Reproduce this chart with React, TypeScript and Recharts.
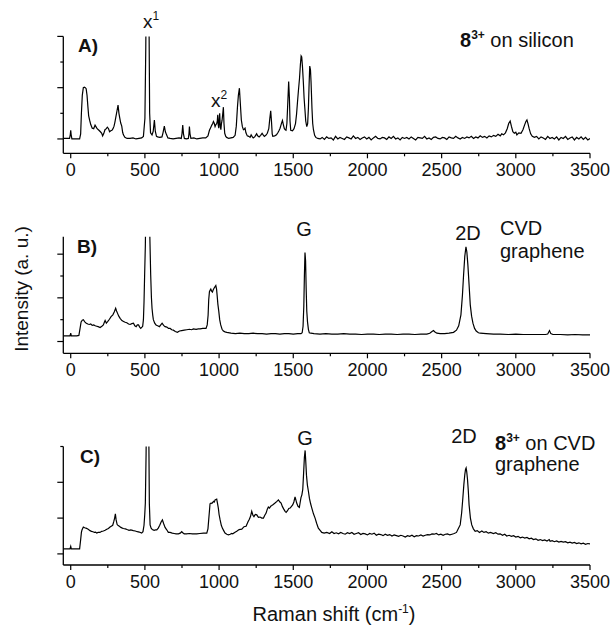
import { LineChart, Line, XAxis, YAxis } from 'recharts'

const FONT = '"Liberation Sans", Arial, sans-serif'

// Raman shift ticks (cm-1), majors every 500, minors in between
const shiftTicks = [0, 250, 500, 750, 1000, 1250, 1500, 1750, 2000, 2250, 2500, 2750, 3000, 3250, 3500]

// y ticks per panel (arbitrary units), majors listed separately
const ticksA = [0, 0.5, 1, 1.5, 2]
const majorA = [0, 1, 2]
const ticksB = [0, 0.5, 1, 1.5, 2]
const majorB = [0, 1, 2]
const ticksC = [0, 1, 2, 3]
const majorC = [0, 1, 2]

// A) 8(3+) on silicon  [shift, intensity]
const spectrumA: [number, number][] = [
  [-50, 0.01], [-20, 0.01], [-8, 0.01], [-3, 0.08], [0, 0.17], [3, 0.08], [8, 0], [30, 0], [60, 0],
  [67, 0.1], [72, 0.5], [78, 0.85], [85, 1.0], [92, 1.01], [98, 1.0], [104, 0.98], [110, 0.85], [116, 0.62],
  [121, 0.45], [128, 0.36], [135, 0.28], [145, 0.21], [155, 0.2], [164, 0.27], [170, 0.24], [178, 0.2],
  [190, 0.17], [200, 0.14], [209, 0.11], [215, 0.06], [222, 0.1], [231, 0.18], [240, 0.2], [247, 0.23],
  [255, 0.2], [262, 0.14], [270, 0.16], [278, 0.17], [285, 0.2], [292, 0.25], [298, 0.33], [305, 0.44],
  [312, 0.55], [319, 0.66], [325, 0.5], [331, 0.4], [337, 0.31], [344, 0.25], [350, 0.13], [355, 0.08],
  [365, 0.03], [380, 0.01], [400, 0.01], [420, 0.02], [440, 0], [460, 0.01], [478, 0.02], [490, 0.05],
  [500, 0.4], [506, 1.8], [512, 4], [518, 4], [524, 4], [528, 2.2], [532, 0.5], [538, 0.12], [548, 0.08],
  [556, 0.15], [564, 0.37], [570, 0.15], [578, 0.05], [586, 0.04], [600, 0.03], [615, 0.04], [622, 0.12],
  [631, 0.25], [638, 0.14], [646, 0.08], [655, 0.02], [670, 0.01], [690, 0], [710, 0.01], [730, 0.02],
  [745, 0.01], [750, 0.1], [755, 0.27], [760, 0.1], [766, 0.01], [780, 0], [793, 0.01], [797, 0.1],
  [800, 0.24], [804, 0.1], [810, 0.01], [830, 0.02], [850, 0], [870, 0.01], [890, 0.02], [910, 0.02],
  [925, 0.06], [935, 0.17], [943, 0.22], [951, 0.27], [957, 0.3], [962, 0.34], [968, 0.3], [973, 0.24],
  [979, 0.28], [984, 0.3], [988, 0.35], [991, 0.47], [994, 0.28], [998, 0.21], [1001, 0.38], [1004, 0.5],
  [1008, 0.25], [1012, 0.18], [1016, 0.3], [1020, 0.36], [1025, 0.5], [1029, 0.62], [1033, 0.3],
  [1038, 0.11], [1045, 0.05], [1051, 0.03], [1065, 0.01], [1080, 0.02], [1095, 0.03], [1108, 0.07],
  [1116, 0.25], [1124, 0.63], [1130, 0.85], [1137, 0.99], [1143, 0.7], [1150, 0.37], [1157, 0.24],
  [1164, 0.18], [1170, 0.19], [1175, 0.21], [1181, 0.12], [1190, 0.06], [1200, 0.05], [1209, 0.03],
  [1216, 0.08], [1222, 0.05], [1230, 0.02], [1240, 0.04], [1253, 0.1], [1260, 0.06], [1270, 0.04],
  [1280, 0.07], [1290, 0.11], [1297, 0.08], [1305, 0.05], [1315, 0.07], [1325, 0.11], [1335, 0.2],
  [1342, 0.4], [1348, 0.55], [1353, 0.35], [1358, 0.1], [1362, 0.05], [1375, 0.06], [1387, 0.08],
  [1398, 0.13], [1405, 0.17], [1411, 0.21], [1420, 0.3], [1427, 0.36], [1433, 0.28], [1440, 0.2],
  [1446, 0.18], [1451, 0.17], [1457, 0.3], [1463, 0.7], [1469, 1.12], [1474, 0.8], [1478, 0.35],
  [1483, 0.17], [1495, 0.16], [1505, 0.2], [1515, 0.3], [1522, 0.48], [1528, 0.7], [1535, 0.95],
  [1542, 1.18], [1548, 1.45], [1553, 1.62], [1557, 1.6], [1562, 1.41], [1568, 1.1], [1573, 0.8],
  [1578, 0.6], [1584, 0.35], [1591, 0.24], [1597, 0.3], [1602, 0.6], [1606, 1.0], [1611, 1.42],
  [1616, 1.35], [1620, 1.1], [1626, 0.6], [1631, 0.3], [1636, 0.18], [1644, 0.07], [1652, 0.03],
  [1665, 0.01], [1681, 0], [1695, 0.03], [1710, -0.01], [1725, 0.04], [1740, 0.01], [1755, 0.02],
  [1770, -0.02], [1785, 0.05], [1800, 0], [1815, 0.03], [1830, 0.01], [1845, -0.01], [1860, 0.04],
  [1875, 0.02], [1890, 0], [1905, 0.06], [1920, 0.01], [1935, 0.03], [1950, -0.01], [1965, 0.02],
  [1980, 0.04], [1995, 0], [2010, 0.03], [2025, -0.02], [2040, 0.02], [2055, 0.05], [2070, 0.01],
  [2085, 0], [2100, 0.03], [2115, 0.02], [2130, -0.01], [2145, 0.04], [2160, 0.01], [2175, 0.05],
  [2190, 0], [2205, 0.02], [2220, -0.02], [2235, 0.03], [2250, 0.01], [2265, 0.03], [2280, 0],
  [2295, 0.04], [2310, 0.01], [2325, -0.02], [2340, 0.03], [2355, 0.02], [2370, 0.01], [2385, 0.05],
  [2400, 0], [2415, 0.02], [2430, -0.01], [2445, 0.03], [2460, 0.04], [2475, 0.01], [2490, 0],
  [2505, 0.03], [2520, 0.02], [2535, -0.01], [2550, 0.04], [2565, 0.02], [2580, 0.01], [2595, 0.05],
  [2610, 0.02], [2625, 0], [2640, 0.03], [2655, 0.01], [2670, 0.04], [2685, 0.02], [2700, 0.05],
  [2715, 0.01], [2730, 0.04], [2745, 0.02], [2760, 0.06], [2775, 0.03], [2790, 0.05], [2805, 0.02],
  [2820, 0.06], [2835, 0.04], [2850, 0.07], [2865, 0.05], [2880, 0.09], [2895, 0.06], [2905, 0.1],
  [2917, 0.08], [2930, 0.12], [2942, 0.2], [2952, 0.3], [2962, 0.35], [2970, 0.25], [2980, 0.14],
  [2990, 0.11], [3000, 0.13], [3007, 0.08], [3020, 0.12], [3035, 0.11], [3048, 0.18], [3060, 0.28],
  [3068, 0.34], [3075, 0.37], [3082, 0.3], [3090, 0.2], [3100, 0.1], [3111, 0.05], [3125, 0.03],
  [3140, 0.05], [3155, 0], [3170, 0.04], [3185, 0.02], [3200, -0.01], [3215, 0.05], [3230, 0.01],
  [3245, 0.03], [3260, 0], [3275, 0.04], [3290, -0.02], [3305, 0.03], [3320, 0.01], [3335, 0.05],
  [3350, -0.01], [3365, 0.02], [3380, 0.04], [3395, -0.02], [3410, 0.03], [3425, 0], [3440, 0.04],
  [3455, -0.01], [3470, 0.03], [3485, -0.02], [3500, 0.01],
]

// B) CVD graphene
const spectrumB: [number, number][] = [
  [-50, 0.13], [-20, 0.13], [-5, 0.13], [0, 0.19], [4, 0.13], [20, 0.13], [40, 0.13], [55, 0.14],
  [63, 0.3], [70, 0.45], [78, 0.49], [85, 0.5], [95, 0.45], [105, 0.42], [115, 0.4], [125, 0.39],
  [135, 0.4], [145, 0.37], [155, 0.38], [165, 0.36], [175, 0.35], [185, 0.34], [198, 0.32], [210, 0.35],
  [220, 0.38], [228, 0.45], [232, 0.48], [240, 0.42], [250, 0.46], [261, 0.51], [272, 0.57], [284, 0.61],
  [294, 0.68], [303, 0.76], [309, 0.7], [315, 0.65], [324, 0.58], [333, 0.53], [345, 0.48], [356, 0.46],
  [367, 0.44], [378, 0.43], [390, 0.4], [400, 0.39], [412, 0.41], [423, 0.42], [432, 0.36], [441, 0.34],
  [449, 0.38], [457, 0.38], [465, 0.33], [472, 0.3], [480, 0.33], [485, 0.35], [490, 0.5], [494, 0.9],
  [498, 1.5], [503, 2.2], [508, 3.5], [514, 4.5], [520, 4.5], [526, 4], [532, 2.6], [539, 1.53],
  [544, 1.0], [548, 0.76], [553, 0.6], [557, 0.5], [566, 0.42], [575, 0.38], [586, 0.36], [598, 0.34],
  [607, 0.38], [616, 0.42], [626, 0.37], [636, 0.34], [648, 0.33], [659, 0.3], [670, 0.3], [681, 0.27],
  [692, 0.26], [705, 0.23], [719, 0.21], [733, 0.24], [748, 0.25], [765, 0.26], [782, 0.27], [800, 0.28],
  [815, 0.27], [827, 0.29], [845, 0.28], [860, 0.29], [872, 0.29], [890, 0.3], [905, 0.3], [912, 0.3],
  [920, 0.38], [926, 0.6], [930, 0.95], [935, 1.14], [940, 1.18], [944, 1.2], [950, 1.15], [955, 1.13],
  [960, 1.18], [966, 1.22], [972, 1.25], [978, 1.28], [983, 1.2], [987, 1.05], [992, 0.85], [998, 0.69],
  [1004, 0.5], [1011, 0.38], [1020, 0.28], [1029, 0.24], [1040, 0.22], [1052, 0.21], [1080, 0.19],
  [1110, 0.18], [1140, 0.19], [1170, 0.18], [1200, 0.18], [1230, 0.19], [1260, 0.18], [1290, 0.18],
  [1320, 0.17], [1350, 0.18], [1380, 0.18], [1410, 0.17], [1440, 0.18], [1470, 0.18], [1500, 0.17],
  [1530, 0.18], [1552, 0.18], [1560, 0.2], [1566, 0.35], [1571, 0.8], [1575, 1.5], [1579, 2.04],
  [1583, 1.85], [1587, 1.2], [1591, 0.7], [1596, 0.45], [1602, 0.28], [1608, 0.2], [1618, 0.19],
  [1640, 0.18], [1680, 0.17], [1720, 0.18], [1760, 0.17], [1800, 0.17], [1840, 0.18], [1880, 0.17],
  [1920, 0.17], [1960, 0.16], [2000, 0.17], [2040, 0.17], [2080, 0.16], [2120, 0.17], [2160, 0.17],
  [2200, 0.16], [2240, 0.17], [2280, 0.17], [2320, 0.16], [2360, 0.17], [2400, 0.17], [2420, 0.19],
  [2435, 0.23], [2445, 0.25], [2455, 0.22], [2468, 0.19], [2490, 0.18], [2520, 0.18], [2550, 0.19],
  [2580, 0.21], [2600, 0.26], [2615, 0.36], [2630, 0.61], [2640, 1.05], [2648, 1.53], [2656, 1.95],
  [2664, 2.17], [2670, 2.05], [2677, 1.75], [2685, 1.3], [2693, 0.84], [2702, 0.58], [2711, 0.42],
  [2722, 0.3], [2733, 0.24], [2748, 0.2], [2760, 0.19], [2800, 0.18], [2850, 0.17], [2895, 0.17],
  [2950, 0.16], [3000, 0.17], [3050, 0.16], [3100, 0.16], [3150, 0.16], [3200, 0.16], [3215, 0.17],
  [3227, 0.25], [3236, 0.18], [3250, 0.16], [3300, 0.16], [3350, 0.15], [3400, 0.16], [3450, 0.15],
  [3500, 0.15],
]

// C) 8(3+) on CVD graphene
const spectrumC: [number, number][] = [
  [-50, 0.14], [-20, 0.14], [-5, 0.14], [0, 0.21], [4, 0.14], [30, 0.14], [60, 0.14], [67, 0.4],
  [72, 0.6], [76, 0.67], [85, 0.75], [94, 0.73], [103, 0.72], [112, 0.7], [120, 0.68], [130, 0.65],
  [140, 0.63], [150, 0.62], [160, 0.6], [168, 0.61], [175, 0.58], [185, 0.6], [197, 0.6], [209, 0.63],
  [220, 0.64], [232, 0.66], [243, 0.69], [254, 0.71], [265, 0.75], [276, 0.78], [283, 0.8], [290, 0.9],
  [296, 1.0], [301, 1.12], [306, 0.95], [313, 0.82], [320, 0.79], [328, 0.77], [338, 0.74], [348, 0.72],
  [355, 0.71], [368, 0.7], [380, 0.68], [393, 0.66], [405, 0.67], [422, 0.65], [435, 0.64], [449, 0.62],
  [462, 0.61], [478, 0.58], [487, 0.62], [494, 0.8], [499, 1.1], [503, 1.42], [508, 2.8], [513, 5],
  [520, 5], [526, 3.5], [530, 1.4], [535, 0.81], [542, 0.72], [550, 0.68], [562, 0.66], [572, 0.67],
  [580, 0.67], [590, 0.72], [600, 0.8], [610, 0.9], [618, 0.95], [626, 0.85], [636, 0.74], [646, 0.68],
  [658, 0.6], [670, 0.6], [684, 0.58], [697, 0.57], [710, 0.56], [726, 0.56], [738, 0.58], [748, 0.62],
  [755, 0.59], [765, 0.56], [780, 0.56], [800, 0.57], [820, 0.56], [849, 0.56], [870, 0.57], [895, 0.58],
  [917, 0.58], [925, 0.7], [930, 0.95], [935, 1.2], [939, 1.4], [945, 1.42], [951, 1.41], [957, 1.44],
  [963, 1.47], [968, 1.45], [973, 1.51], [978, 1.52], [984, 1.53], [990, 1.4], [995, 1.28], [1000, 1.1],
  [1007, 0.95], [1015, 0.8], [1022, 0.72], [1031, 0.65], [1040, 0.58], [1052, 0.55], [1063, 0.53],
  [1075, 0.55], [1085, 0.57], [1092, 0.56], [1105, 0.6], [1119, 0.63], [1135, 0.68], [1153, 0.69],
  [1168, 0.76], [1182, 0.77], [1195, 0.9], [1204, 0.97], [1212, 1.05], [1220, 1.19], [1228, 1.08],
  [1235, 1.04], [1244, 1.1], [1254, 1.09], [1265, 1.02], [1276, 1.03], [1288, 1.0], [1299, 1.0],
  [1308, 1.08], [1317, 1.14], [1325, 1.25], [1332, 1.31], [1340, 1.28], [1348, 1.33], [1355, 1.35],
  [1365, 1.38], [1377, 1.42], [1388, 1.46], [1400, 1.51], [1410, 1.45], [1418, 1.42], [1427, 1.32],
  [1436, 1.25], [1445, 1.19], [1452, 1.16], [1460, 1.2], [1470, 1.27], [1479, 1.28], [1488, 1.33],
  [1496, 1.37], [1504, 1.45], [1512, 1.59], [1518, 1.5], [1523, 1.42], [1532, 1.33], [1541, 1.3],
  [1547, 1.45], [1552, 1.57], [1558, 1.65], [1564, 1.8], [1569, 2.2], [1575, 2.7], [1580, 2.89],
  [1584, 2.6], [1589, 2.2], [1595, 1.93], [1602, 1.75], [1609, 1.55], [1617, 1.4], [1625, 1.28],
  [1636, 1.12], [1647, 1.0], [1658, 0.85], [1669, 0.72], [1681, 0.66], [1692, 0.6], [1708, 0.58],
  [1726, 0.6], [1745, 0.57], [1760, 0.62], [1775, 0.57], [1790, 0.59], [1805, 0.56], [1820, 0.6],
  [1835, 0.57], [1850, 0.55], [1865, 0.59], [1880, 0.57], [1895, 0.6], [1910, 0.55], [1925, 0.57],
  [1940, 0.59], [1955, 0.54], [1970, 0.57], [1985, 0.56], [2000, 0.53], [2015, 0.57], [2030, 0.55],
  [2045, 0.58], [2060, 0.52], [2075, 0.55], [2090, 0.54], [2105, 0.51], [2120, 0.55], [2135, 0.52],
  [2150, 0.54], [2165, 0.5], [2180, 0.53], [2195, 0.51], [2210, 0.49], [2225, 0.52], [2240, 0.5],
  [2255, 0.47], [2270, 0.51], [2285, 0.49], [2300, 0.52], [2315, 0.48], [2330, 0.51], [2345, 0.5],
  [2360, 0.53], [2375, 0.5], [2390, 0.52], [2405, 0.54], [2420, 0.53], [2435, 0.56], [2450, 0.55],
  [2465, 0.57], [2480, 0.53], [2495, 0.55], [2510, 0.52], [2525, 0.55], [2540, 0.56], [2555, 0.53],
  [2570, 0.55], [2585, 0.57], [2600, 0.6], [2612, 0.7], [2625, 0.81], [2635, 1.15], [2643, 1.56],
  [2650, 1.95], [2656, 2.21], [2661, 2.36], [2665, 2.4], [2669, 2.3], [2674, 2.1], [2680, 1.75],
  [2685, 1.37], [2694, 1.0], [2703, 0.81], [2714, 0.7], [2726, 0.63], [2740, 0.65], [2755, 0.6],
  [2771, 0.64], [2785, 0.6], [2800, 0.62], [2815, 0.58], [2830, 0.6], [2849, 0.57], [2865, 0.59],
  [2880, 0.55], [2895, 0.56], [2910, 0.52], [2925, 0.55], [2939, 0.5], [2955, 0.52], [2970, 0.49],
  [2985, 0.51], [3000, 0.47], [3015, 0.49], [3030, 0.45], [3045, 0.47], [3060, 0.44], [3075, 0.46],
  [3090, 0.42], [3105, 0.44], [3119, 0.4], [3135, 0.42], [3150, 0.38], [3165, 0.4], [3180, 0.37],
  [3195, 0.39], [3210, 0.36], [3225, 0.4], [3231, 0.35], [3245, 0.37], [3260, 0.34], [3275, 0.36],
  [3290, 0.33], [3305, 0.35], [3320, 0.33], [3335, 0.34], [3350, 0.31], [3365, 0.33], [3380, 0.3],
  [3395, 0.32], [3410, 0.29], [3425, 0.31], [3440, 0.28], [3455, 0.3], [3470, 0.27], [3485, 0.29],
  [3500, 0.28],
]

const XTick = ({ x, y, payload, showLabel }: any) => {
  const major = payload.value % 500 === 0
  return (
    <g>
      <line x1={x} x2={x} y1={y} y2={y + (major ? 5 : 3)} stroke="#000" strokeWidth={1.2} />
      {major && showLabel && (
        <text x={x} y={y + 23} textAnchor="middle" fontSize={18} fontFamily={FONT} fill="#111">
          {payload.value}
        </text>
      )}
    </g>
  )
}

const makeYTick = (majors: number[]) => ({ x, y, payload }: any) => {
  const len = majors.includes(payload.value) ? 6 : 3
  return <line x1={x} x2={x - len} y1={y} y2={y} stroke="#000" strokeWidth={1.2} />
}

interface PanelProps {
  data: [number, number][]
  top: number
  height: number
  marginTop: number
  marginBottom: number
  yDomain: [number, number]
  yTicks: number[]
  yMajor: number[]
}

function Panel({ data, top, height, marginTop, marginBottom, yDomain, yTicks, yMajor }: PanelProps) {
  const rows = data.map(([shift, v]) => ({ shift, v }))
  return (
    <div style={{ position: 'absolute', left: 0, top, width: 610, height }}>
      <LineChart width={610} height={height} data={rows}
        margin={{ top: marginTop, right: 20, bottom: marginBottom, left: 3.3 }}>
        <XAxis type="number" dataKey="shift" domain={[-50, 3500]} ticks={shiftTicks} interval={0}
          allowDataOverflow height={30} tickSize={0} tickMargin={0} tickLine={false}
          axisLine={{ stroke: '#000', strokeWidth: 1.3 }}
          tick={(p: any) => <XTick {...p} showLabel />} />
        <YAxis type="number" domain={yDomain} ticks={yTicks} interval={0} allowDataOverflow width={60}
          tickSize={0} tickMargin={0} tickLine={false}
          axisLine={{ stroke: '#000', strokeWidth: 1.3 }}
          tick={makeYTick(yMajor)} />
        <Line type="linear" dataKey="v" stroke="#000" strokeWidth={1.2} dot={false}
          isAnimationActive={false} />
      </LineChart>
    </div>
  )
}

const Sup = ({ children }: { children: string }) => (
  <tspan fontSize={12} dy={-8}>{children}</tspan>
)

export default function App() {
  const txt = { fontFamily: FONT, fill: '#111' }
  return (
    <div style={{ position: 'absolute', left: 0, top: 0, width: 610, height: 625, background: '#fff', overflow: 'hidden' }}>
      <Panel data={spectrumA} top={0} height={200} marginTop={36.4} marginBottom={16.7}
        yDomain={[-0.28, 2]} yTicks={ticksA} yMajor={majorA} />
      <Panel data={spectrumB} top={200} height={210} marginTop={36.7} marginBottom={26.7}
        yDomain={[-0.27, 2.4]} yTicks={ticksB} yMajor={majorB} />
      <Panel data={spectrumC} top={410} height={215} marginTop={36.5} marginBottom={30}
        yDomain={[-0.31, 3]} yTicks={ticksC} yMajor={majorC} />

      <svg width={610} height={625} style={{ position: 'absolute', left: 0, top: 0, pointerEvents: 'none' }}>
        {/* panel A */}
        <text x={78} y={52} fontSize={19} fontWeight="bold" {...txt}>A)</text>
        <text x={460} y={47} fontSize={20} {...txt}>
          <tspan fontWeight="bold">8</tspan>
          <tspan fontWeight="bold" fontSize={12} dy={-8}>3+</tspan>
          <tspan dy={8}> on silicon</tspan>
        </text>
        <text x={143} y={28} fontSize={19} {...txt}>x<Sup>1</Sup></text>
        <text x={211} y={107} fontSize={19} {...txt}>x<Sup>2</Sup></text>

        {/* panel B */}
        <text x={77} y={253} fontSize={19} fontWeight="bold" {...txt}>B)</text>
        <text x={304} y={236} fontSize={20} textAnchor="middle" {...txt}>G</text>
        <text x={468} y={240} fontSize={20} textAnchor="middle" {...txt}>2D</text>
        <text x={500} y={235} fontSize={20} {...txt}>CVD</text>
        <text x={500} y={258} fontSize={20} {...txt}>graphene</text>

        {/* panel C */}
        <text x={80} y={463} fontSize={19} fontWeight="bold" {...txt}>C)</text>
        <text x={305} y={445} fontSize={20} textAnchor="middle" {...txt}>G</text>
        <text x={464} y={443} fontSize={20} textAnchor="middle" {...txt}>2D</text>
        <text x={495} y={450} fontSize={20} {...txt}>
          <tspan fontWeight="bold">8</tspan>
          <tspan fontWeight="bold" fontSize={12} dy={-8}>3+</tspan>
          <tspan dy={8}> on CVD</tspan>
        </text>
        <text x={495} y={471} fontSize={20} {...txt}>graphene</text>

        {/* axis titles */}
        <text transform="translate(28,289) rotate(-90)" textAnchor="middle" fontSize={19} {...txt}>
          Intensity (a. u.)
        </text>
        <text x={334} y={621} textAnchor="middle" fontSize={20} {...txt}>
          Raman shift (cm<tspan fontSize={12} dy={-8}>-1</tspan><tspan dy={8}>)</tspan>
        </text>
      </svg>
    </div>
  )
}
